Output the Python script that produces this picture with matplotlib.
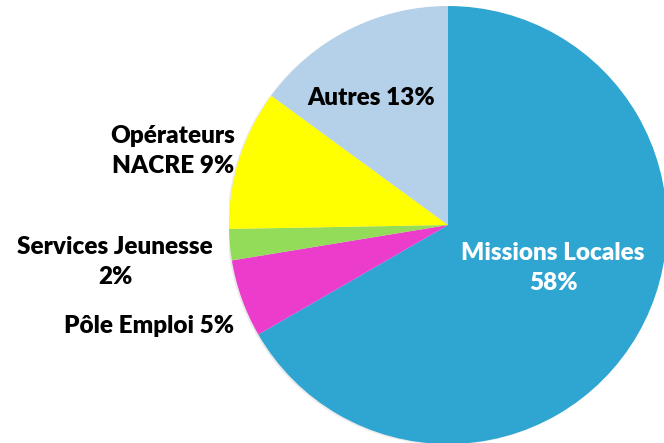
import matplotlib.pyplot as plt
from matplotlib.patches import Circle

# Data (clockwise from 12 o'clock)
labels = ["Missions Locales\n58%", "Pôle Emploi 5%", "Services Jeunesse\n2%",
          "Opérateurs\nNACRE 9%", "Autres 13%"]
values = [58, 5, 2, 9, 13]
colors = ["#2FA5D2", "#EC3CCB", "#93DC5A", "#FFFF00", "#B4D1E9"]

# label positions in pixels of the reference (center of text block)
label_px = [(553, 268), (149, 326), (115, 262), (173, 151), (371, 98)]
label_colors = ["white", "black", "black", "black", "black"]

W, H = 664, 443
cx, cy, r = 448, 225, 219

fig = plt.figure(figsize=(W / 100, H / 100), dpi=100)
ax = fig.add_axes([(cx - r) / W, (H - cy - r) / H, 2 * r / W, 2 * r / H])

# faint shadow behind the pie
ax.add_patch(Circle((-0.008, -0.004), 1.0, color="#bbbbbb", alpha=0.3, lw=0, zorder=0))

ax.pie(values, colors=colors, startangle=90, counterclock=False,
       wedgeprops=dict(linewidth=0), radius=1.0)

ax.set_xlim(-1, 1)
ax.set_ylim(-1, 1)
ax.set_aspect("equal")
ax.axis("off")

for lab, (px, py), c in zip(labels, label_px, label_colors):
    x = (px - cx) / r
    y = (cy - py) / r
    ax.text(x, y, lab, ha="center", va="center", color=c, fontsize=17.5,
            fontweight="heavy", family="Lato", linespacing=1.47, clip_on=False)

fig.savefig("out.png", dpi=100)
